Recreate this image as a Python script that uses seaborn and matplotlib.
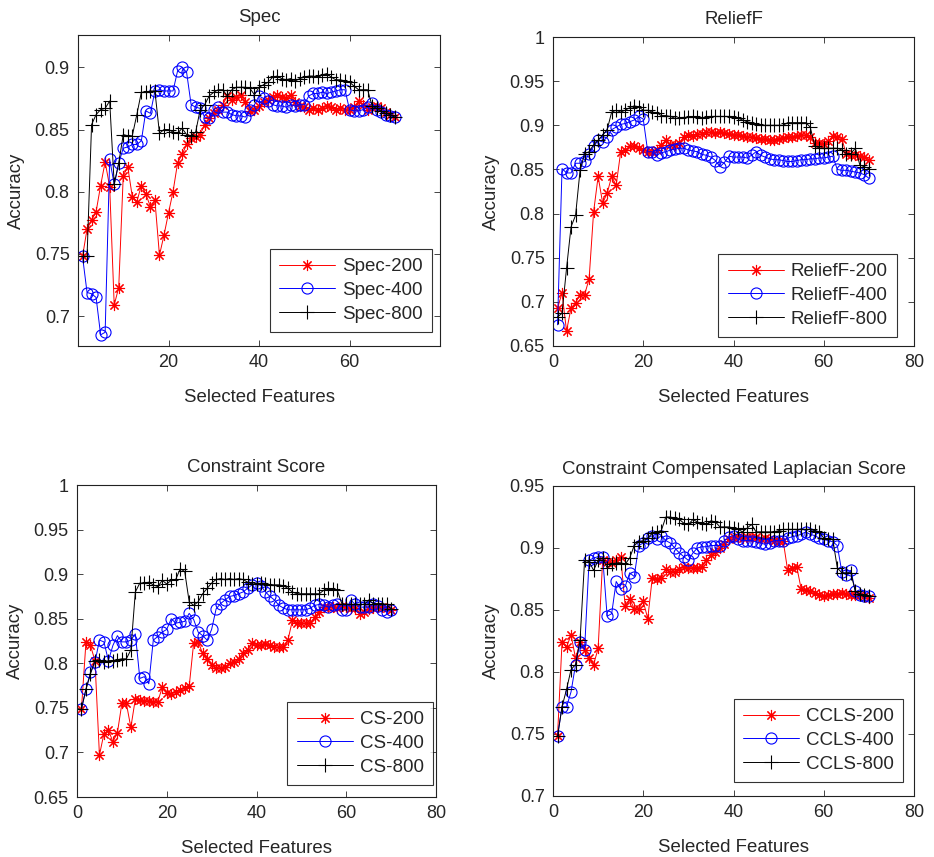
import matplotlib
matplotlib.use("Agg")

import matplotlib.pyplot as plt
import seaborn as sns
import numpy as np

# x positions: number of selected features
features = np.arange(1, 71)

spec_200 = [0.748, 0.770, 0.777, 0.784, 0.805, 0.824, 0.804, 0.709, 0.723, 0.813,
            0.820, 0.796, 0.792, 0.805, 0.798, 0.788, 0.793, 0.749, 0.765, 0.783,
            0.800, 0.823, 0.830, 0.838, 0.843, 0.844, 0.846, 0.854, 0.859, 0.863,
            0.866, 0.870, 0.877, 0.874, 0.876, 0.878, 0.872, 0.865, 0.866, 0.869,
            0.872, 0.874, 0.876, 0.878, 0.876, 0.875, 0.878, 0.872, 0.869, 0.868,
            0.866, 0.867, 0.866, 0.867, 0.869, 0.868, 0.866, 0.867, 0.866, 0.866,
            0.868, 0.873, 0.870, 0.866, 0.868, 0.869, 0.867, 0.864, 0.862, 0.860]
spec_400 = [0.748, 0.719, 0.718, 0.715, 0.685, 0.687, 0.826, 0.806, 0.823, 0.835,
            0.836, 0.838, 0.838, 0.841, 0.865, 0.863, 0.881, 0.882, 0.881, 0.881,
            0.881, 0.897, 0.900, 0.896, 0.870, 0.868, 0.867, 0.860, 0.859, 0.866,
            0.868, 0.864, 0.864, 0.862, 0.861, 0.861, 0.860, 0.866, 0.870, 0.877,
            0.875, 0.873, 0.870, 0.869, 0.869, 0.868, 0.870, 0.869, 0.870, 0.870,
            0.877, 0.879, 0.879, 0.880, 0.879, 0.880, 0.881, 0.882, 0.882, 0.866,
            0.865, 0.865, 0.866, 0.868, 0.871, 0.866, 0.864, 0.862, 0.861, 0.860]
spec_800 = [0.748, 0.748, 0.854, 0.862, 0.866, 0.867, 0.873, 0.806, 0.823, 0.846,
            0.845, 0.845, 0.862, 0.880, 0.880, 0.881, 0.881, 0.847, 0.850, 0.850,
            0.848, 0.847, 0.851, 0.846, 0.845, 0.848, 0.866, 0.870, 0.877, 0.880,
            0.882, 0.882, 0.877, 0.882, 0.884, 0.884, 0.884, 0.883, 0.878, 0.884,
            0.886, 0.888, 0.892, 0.893, 0.891, 0.890, 0.891, 0.889, 0.891, 0.892,
            0.893, 0.893, 0.892, 0.894, 0.895, 0.892, 0.890, 0.890, 0.889, 0.888,
            0.885, 0.882, 0.882, 0.882, 0.869, 0.867, 0.865, 0.863, 0.862, 0.860]

relief_200 = [0.693, 0.710, 0.667, 0.693, 0.699, 0.708, 0.708, 0.726, 0.802, 0.842,
              0.812, 0.823, 0.842, 0.832, 0.870, 0.872, 0.876, 0.876, 0.874, 0.872,
              0.870, 0.870, 0.872, 0.878, 0.883, 0.878, 0.878, 0.880, 0.887, 0.889,
              0.888, 0.890, 0.890, 0.892, 0.892, 0.891, 0.892, 0.891, 0.890, 0.889,
              0.889, 0.888, 0.887, 0.887, 0.886, 0.885, 0.884, 0.883, 0.883, 0.885,
              0.886, 0.887, 0.887, 0.888, 0.889, 0.889, 0.887, 0.880, 0.880, 0.879,
              0.882, 0.888, 0.887, 0.885, 0.867, 0.866, 0.866, 0.865, 0.864, 0.861]
relief_400 = [0.674, 0.851, 0.846, 0.846, 0.857, 0.857, 0.859, 0.868, 0.876, 0.883,
              0.881, 0.887, 0.895, 0.898, 0.901, 0.902, 0.904, 0.906, 0.910, 0.907,
              0.870, 0.870, 0.866, 0.869, 0.870, 0.872, 0.873, 0.874, 0.874, 0.872,
              0.871, 0.870, 0.867, 0.866, 0.864, 0.860, 0.853, 0.858, 0.865, 0.864,
              0.864, 0.864, 0.863, 0.866, 0.870, 0.866, 0.864, 0.862, 0.861, 0.861,
              0.860, 0.859, 0.859, 0.860, 0.861, 0.861, 0.862, 0.862, 0.863, 0.863,
              0.864, 0.865, 0.850, 0.849, 0.849, 0.848, 0.847, 0.846, 0.844, 0.840]
relief_800 = [0.683, 0.687, 0.738, 0.785, 0.798, 0.849, 0.868, 0.870, 0.878, 0.883,
              0.889, 0.895, 0.915, 0.917, 0.915, 0.917, 0.920, 0.922, 0.921, 0.917,
              0.917, 0.915, 0.914, 0.911, 0.911, 0.910, 0.908, 0.908, 0.909, 0.909,
              0.910, 0.909, 0.908, 0.909, 0.910, 0.910, 0.910, 0.910, 0.910, 0.909,
              0.908, 0.906, 0.904, 0.903, 0.901, 0.900, 0.900, 0.900, 0.900, 0.900,
              0.900, 0.903, 0.903, 0.903, 0.903, 0.903, 0.898, 0.877, 0.874, 0.874,
              0.874, 0.874, 0.874, 0.872, 0.868, 0.868, 0.874, 0.855, 0.853, 0.851]

cs_200 = [0.749, 0.824, 0.820, 0.803, 0.697, 0.721, 0.725, 0.712, 0.722, 0.755,
          0.755, 0.728, 0.760, 0.759, 0.758, 0.758, 0.757, 0.757, 0.773, 0.767,
          0.766, 0.768, 0.770, 0.772, 0.774, 0.823, 0.824, 0.811, 0.805, 0.798,
          0.795, 0.795, 0.796, 0.800, 0.801, 0.805, 0.811, 0.815, 0.823, 0.820,
          0.820, 0.822, 0.820, 0.818, 0.818, 0.818, 0.826, 0.848, 0.845, 0.845,
          0.845, 0.845, 0.852, 0.858, 0.863, 0.863, 0.863, 0.862, 0.864, 0.863,
          0.862, 0.862, 0.855, 0.858, 0.861, 0.862, 0.863, 0.863, 0.862, 0.860]
cs_400 = [0.749, 0.771, 0.790, 0.801, 0.826, 0.824, 0.803, 0.820, 0.831, 0.824,
          0.824, 0.826, 0.833, 0.783, 0.785, 0.777, 0.826, 0.830, 0.835, 0.838,
          0.850, 0.845, 0.846, 0.847, 0.856, 0.849, 0.835, 0.831, 0.826, 0.838,
          0.861, 0.867, 0.871, 0.875, 0.876, 0.878, 0.880, 0.884, 0.888, 0.890,
          0.887, 0.880, 0.875, 0.871, 0.865, 0.862, 0.860, 0.860, 0.860, 0.860,
          0.860, 0.862, 0.865, 0.866, 0.865, 0.863, 0.865, 0.867, 0.860, 0.860,
          0.871, 0.866, 0.863, 0.863, 0.863, 0.866, 0.864, 0.860, 0.858, 0.860]
cs_800 = [0.749, 0.771, 0.788, 0.803, 0.804, 0.801, 0.803, 0.803, 0.804, 0.805,
          0.805, 0.815, 0.880, 0.890, 0.890, 0.891, 0.888, 0.886, 0.893, 0.889,
          0.893, 0.894, 0.906, 0.903, 0.869, 0.865, 0.869, 0.878, 0.884, 0.890,
          0.894, 0.895, 0.894, 0.895, 0.894, 0.895, 0.894, 0.891, 0.889, 0.889,
          0.890, 0.889, 0.888, 0.888, 0.888, 0.887, 0.884, 0.880, 0.878, 0.878,
          0.878, 0.878, 0.878, 0.878, 0.882, 0.884, 0.883, 0.882, 0.867, 0.866,
          0.866, 0.866, 0.866, 0.866, 0.871, 0.867, 0.867, 0.867, 0.866, 0.861]

ccls_200 = [0.748, 0.824, 0.820, 0.830, 0.811, 0.824, 0.818, 0.811, 0.806, 0.819,
            0.890, 0.889, 0.888, 0.890, 0.893, 0.853, 0.859, 0.851, 0.851, 0.857,
            0.843, 0.876, 0.875, 0.876, 0.883, 0.881, 0.881, 0.883, 0.885, 0.884,
            0.884, 0.884, 0.885, 0.890, 0.894, 0.897, 0.900, 0.903, 0.907, 0.909,
            0.909, 0.908, 0.909, 0.909, 0.909, 0.907, 0.908, 0.907, 0.906, 0.906,
            0.906, 0.882, 0.884, 0.885, 0.867, 0.866, 0.865, 0.864, 0.862, 0.861,
            0.862, 0.863, 0.863, 0.864, 0.863, 0.862, 0.862, 0.862, 0.861, 0.860]
ccls_400 = [0.748, 0.772, 0.772, 0.784, 0.806, 0.824, 0.818, 0.890, 0.892, 0.893,
            0.893, 0.845, 0.847, 0.873, 0.867, 0.869, 0.880, 0.877, 0.902, 0.904,
            0.908, 0.910, 0.907, 0.910, 0.906, 0.904, 0.900, 0.896, 0.893, 0.890,
            0.896, 0.900, 0.901, 0.901, 0.902, 0.902, 0.902, 0.906, 0.909, 0.910,
            0.907, 0.906, 0.906, 0.906, 0.905, 0.904, 0.903, 0.904, 0.906, 0.906,
            0.906, 0.908, 0.909, 0.910, 0.911, 0.913, 0.911, 0.910, 0.908, 0.907,
            0.906, 0.905, 0.902, 0.881, 0.878, 0.882, 0.865, 0.862, 0.861, 0.861]
ccls_800 = [0.748, 0.772, 0.786, 0.802, 0.806, 0.826, 0.890, 0.889, 0.882, 0.890,
            0.892, 0.884, 0.887, 0.888, 0.888, 0.887, 0.892, 0.902, 0.905, 0.906,
            0.908, 0.912, 0.913, 0.914, 0.925, 0.925, 0.924, 0.923, 0.920, 0.919,
            0.923, 0.921, 0.920, 0.919, 0.922, 0.921, 0.917, 0.917, 0.917, 0.916,
            0.915, 0.913, 0.916, 0.919, 0.913, 0.913, 0.913, 0.913, 0.913, 0.914,
            0.915, 0.915, 0.915, 0.915, 0.915, 0.915, 0.915, 0.914, 0.913, 0.908,
            0.907, 0.907, 0.884, 0.880, 0.880, 0.880, 0.865, 0.863, 0.862, 0.861]

sns.set_theme(style="ticks")
plt.rcParams.update({
    "font.family": ["Liberation Sans", "DejaVu Sans"],
    "font.size": 13,
    "xtick.direction": "in",
    "ytick.direction": "in",
    "axes.linewidth": 0.8,
})

W, H = 934, 857
fig = plt.figure(figsize=(W / 100, H / 100), dpi=100)

# title, legend prefix, series, axes box in px (left, top, right, bottom),
# ylim, yticks, xticks, legend lower-right corner in px
panels = [
    ("Spec", "Spec", (spec_200, spec_400, spec_800), (78, 35, 440, 346),
     (0.676, 0.926), [0.7, 0.75, 0.8, 0.85, 0.9], [20, 40, 60], (432, 332)),
    ("ReliefF", "ReliefF", (relief_200, relief_400, relief_800), (553, 37, 914, 346),
     (0.65, 1.0), [0.65, 0.7, 0.75, 0.8, 0.85, 0.9, 0.95, 1], [0, 20, 40, 60, 80], (897, 337)),
    ("Constraint Score", "CS", (cs_200, cs_400, cs_800), (77, 485, 436, 797),
     (0.65, 1.0), [0.65, 0.7, 0.75, 0.8, 0.85, 0.9, 0.95, 1], [0, 20, 40, 60, 80], (433, 785)),
    ("Constraint Compensated Laplacian Score", "CCLS", (ccls_200, ccls_400, ccls_800),
     (553, 486, 914, 796), (0.7, 0.95), [0.7, 0.75, 0.8, 0.85, 0.9, 0.95],
     [0, 20, 40, 60, 80], (903, 782)),
]

# MATLAB-like markers: asterisk, open circle, plus
styles = [
    ("200", "red", (8, 2, 0), dict(markersize=8)),
    ("400", "blue", "o", dict(markersize=8, markerfacecolor="none")),
    ("800", "black", "+", dict(markersize=10)),
]

for title, prefix, series, box, ylim, yticks, xticks, leg in panels:
    l, t, r, b = box
    ax = fig.add_axes([l / W, 1 - b / H, (r - l) / W, (b - t) / H])
    for values, (suffix, color, marker, extra) in zip(series, styles):
        sns.lineplot(x=features, y=values, color=color, marker=marker,
                     linewidth=0.7, markeredgewidth=0.8, markeredgecolor=color,
                     label=f"{prefix}-{suffix}", ax=ax, **extra)
    ax.set_xlim(0, 80)
    ax.set_ylim(*ylim)
    ax.set_xticks(xticks)
    ax.set_yticks(yticks)
    ax.set_yticklabels([f"{v:g}" for v in yticks])
    ax.tick_params(top=True, right=True, length=4, width=0.6, labelsize=13, pad=6)
    for s in ax.spines.values():
        s.set_color("#222222")
    ax.set_title(title, fontsize=13.4, pad=9)
    ax.set_xlabel("Selected Features", fontsize=13.4, labelpad=13)
    ax.set_ylabel("Accuracy", fontsize=13.4, labelpad=7)
    lg = ax.legend(loc="lower right", bbox_to_anchor=(leg[0] / W, 1 - leg[1] / H),
                   bbox_transform=fig.transFigure, borderaxespad=0, fontsize=13.5,
                   frameon=True, fancybox=False, handlelength=3.0, labelspacing=0.35,
                   borderpad=0.5, handletextpad=0.35)
    lg.get_frame().set_edgecolor("black")
    lg.get_frame().set_linewidth(0.8)

fig.savefig("out.png", dpi=100)
